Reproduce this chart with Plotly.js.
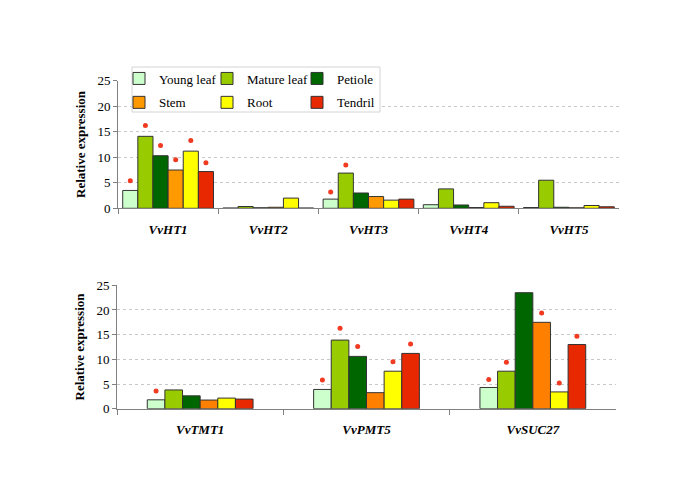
<!DOCTYPE html>
<html><head><meta charset="utf-8">
<script src="https://cdn.plot.ly/plotly-3.0.1.min.js"></script>
<style>html,body{margin:0;padding:0;background:#fff}#chart{width:685px;height:483px}</style>
</head><body><div id="chart"></div>
<script>
// ---- data ----
const topGenes = ['VvHT1', 'VvHT2', 'VvHT3', 'VvHT4', 'VvHT5'];
const bottomGenes = ['VvTMT1', 'VvPMT5', 'VvSUC27'];
const tissues = ['Young leaf', 'Mature leaf', 'Petiole', 'Stem', 'Root', 'Tendril'];

const youngLeafTop  = [3.5, 0.05, 1.8, 0.7, 0.15];
const matureLeafTop = [14.1, 0.35, 6.9, 3.8, 5.5];
const petioleTop    = [10.3, 0.1, 3.0, 0.65, 0.2];
const stemTop       = [7.5, 0.2, 2.3, 0.15, 0.1];
const rootTop       = [11.2, 2.0, 1.6, 1.1, 0.55];
const tendrilTop    = [7.2, 0.05, 1.8, 0.4, 0.3];

const youngLeafBottom  = [1.8, 3.9, 4.3];
const matureLeafBottom = [3.8, 13.9, 7.6];
const petioleBottom    = [2.6, 10.6, 23.5];
const stemBottom       = [1.75, 3.25, 17.5];
const rootBottom       = [2.15, 7.6, 3.4];
const tendrilBottom    = [1.95, 11.2, 13.0];

// significance markers (value where the asterisk dot sits; null = none)
const sigYoungLeafTop  = [5.4, null, 3.2, null, null];
const sigMatureLeafTop = [16.2, null, 8.5, null, null];
const sigPetioleTop    = [12.3, null, null, null, null];
const sigStemTop       = [9.5, null, null, null, null];
const sigRootTop       = [13.3, null, null, null, null];
const sigTendrilTop    = [8.9, null, null, null, null];

const sigYoungLeafBottom  = [3.6, 5.8, 5.9];
const sigMatureLeafBottom = [null, 16.3, 9.4];
const sigPetioleBottom    = [null, 12.6, 25.6];
const sigStemBottom       = [null, null, 19.4];
const sigRootBottom       = [null, 9.5, 5.2];
const sigTendrilBottom    = [null, 13.1, 14.7];

// ---- styling ----
const W = 685, H = 483;
const px = p => p / W;
const py = p => 1 - p / H;
const FONT = 'Liberation Serif';
const topColors = ['#CCFFCC', '#99CC00', '#006600', '#FF9900', '#FFFF00', '#E82800'];
const bottomColors = ['#CCFFCC', '#99CC00', '#006600', '#FF8000', '#FFFF00', '#E82800'];
const dotColor = '#F03A22';
const legendIds = ['legend', 'legend2', 'legend3', 'legend', 'legend2', 'legend3'];

const topSeries = [youngLeafTop, matureLeafTop, petioleTop, stemTop, rootTop, tendrilTop];
const bottomSeries = [youngLeafBottom, matureLeafBottom, petioleBottom, stemBottom, rootBottom, tendrilBottom];
const topSig = [sigYoungLeafTop, sigMatureLeafTop, sigPetioleTop, sigStemTop, sigRootTop, sigTendrilTop];
const bottomSig = [sigYoungLeafBottom, sigMatureLeafBottom, sigPetioleBottom, sigStemBottom, sigRootBottom, sigTendrilBottom];

const topW = 0.151, botW = 0.106;
const n = tissues.length;
const traces = [];

tissues.forEach((name, k) => {
  traces.push({
    type: 'bar', name: name, x: topGenes, y: topSeries[k], xaxis: 'x', yaxis: 'y',
    width: topW, offset: -n / 2 * topW + k * topW,
    marker: {color: topColors[k], line: {color: '#333333', width: 1}},
    legend: legendIds[k], legendgroup: name, showlegend: true, hoverinfo: 'skip'
  });
});
tissues.forEach((name, k) => {
  traces.push({
    type: 'bar', name: name, x: bottomGenes, y: bottomSeries[k], xaxis: 'x2', yaxis: 'y2',
    width: botW, offset: -n / 2 * botW + k * botW,
    marker: {color: bottomColors[k], line: {color: '#333333', width: 1}},
    legendgroup: name, showlegend: false, hoverinfo: 'skip'
  });
});
tissues.forEach((name, k) => {
  traces.push({
    type: 'scatter', mode: 'markers', name: name + ' sig',
    x: topGenes.map((g, i) => i - n / 2 * topW + (k + 0.5) * topW), y: topSig[k],
    xaxis: 'x3', yaxis: 'y', marker: {color: dotColor, size: 5}, showlegend: false, hoverinfo: 'skip'
  });
  traces.push({
    type: 'scatter', mode: 'markers', name: name + ' sig',
    x: bottomGenes.map((g, i) => i - n / 2 * botW + (k + 0.5) * botW), y: bottomSig[k],
    xaxis: 'x4', yaxis: 'y2', marker: {color: dotColor, size: 5}, showlegend: false, hoverinfo: 'skip'
  });
});

const tickFont = {family: FONT, size: 13, color: '#000'};
const catFont = {family: FONT, size: 13, color: '#000', weight: 'bold', style: 'italic'};
const xBase = {
  type: 'category', tickson: 'boundaries', ticks: 'outside', ticklen: 5, tickcolor: '#808080',
  showline: true, linecolor: '#808080', linewidth: 1, showgrid: false, zeroline: false,
  tickfont: catFont, ticklabelstandoff: 9, automargin: false, fixedrange: true
};
const yBase = {
  range: [0, 25], tick0: 0, dtick: 5, ticks: 'outside', ticklen: 4, tickcolor: '#808080',
  showline: true, linecolor: '#808080', linewidth: 1, showgrid: true, gridcolor: '#c8c8c8',
  griddash: 'dot', gridwidth: 1, zeroline: false, tickfont: tickFont, automargin: false,
  title: {text: 'Relative expression', font: {family: FONT, size: 13, color: '#000', weight: 'bold'}, standoff: 8},
  fixedrange: true
};
const legBase = {
  orientation: 'v', yanchor: 'top', xanchor: 'left', y: py(63.5),
  bgcolor: 'rgba(0,0,0,0)', borderwidth: 0, font: {family: FONT, size: 13, color: '#000'},
  tracegroupgap: 4, traceorder: 'grouped'
};

const layout = {
  width: W, height: H, margin: {l: 0, r: 0, t: 0, b: 0},
  paper_bgcolor: '#fff', plot_bgcolor: 'rgba(0,0,0,0)',
  barmode: 'overlay', showlegend: true,
  xaxis: Object.assign({}, xBase, {domain: [px(118), px(619)], anchor: 'y', range: [-0.5, 4.5]}),
  xaxis2: Object.assign({}, xBase, {domain: [px(117), px(616)], anchor: 'y2', range: [-0.5, 2.5]}),
  xaxis3: {overlaying: 'x', anchor: 'y', range: [-0.5, 4.5], visible: false, fixedrange: true},
  xaxis4: {overlaying: 'x2', anchor: 'y2', range: [-0.5, 2.5], visible: false, fixedrange: true},
  yaxis: Object.assign({}, yBase, {domain: [py(208.3), py(80.7)], anchor: 'x'}),
  yaxis2: Object.assign({}, yBase, {domain: [py(408.7), py(285.3)], anchor: 'x2'}),
  legend: Object.assign({}, legBase, {x: px(119)}),
  legend2: Object.assign({}, legBase, {x: px(207)}),
  legend3: Object.assign({}, legBase, {x: px(297)}),
  shapes: [{type: 'rect', xref: 'paper', yref: 'paper', x0: px(132), x1: px(380), y0: py(112), y1: py(67),
    fillcolor: '#ffffff', line: {color: '#d4d4d4', width: 1}, layer: 'above'}]
};

Plotly.newPlot('chart', traces, layout, {displayModeBar: false, staticPlot: true});
</script>
</body></html>
